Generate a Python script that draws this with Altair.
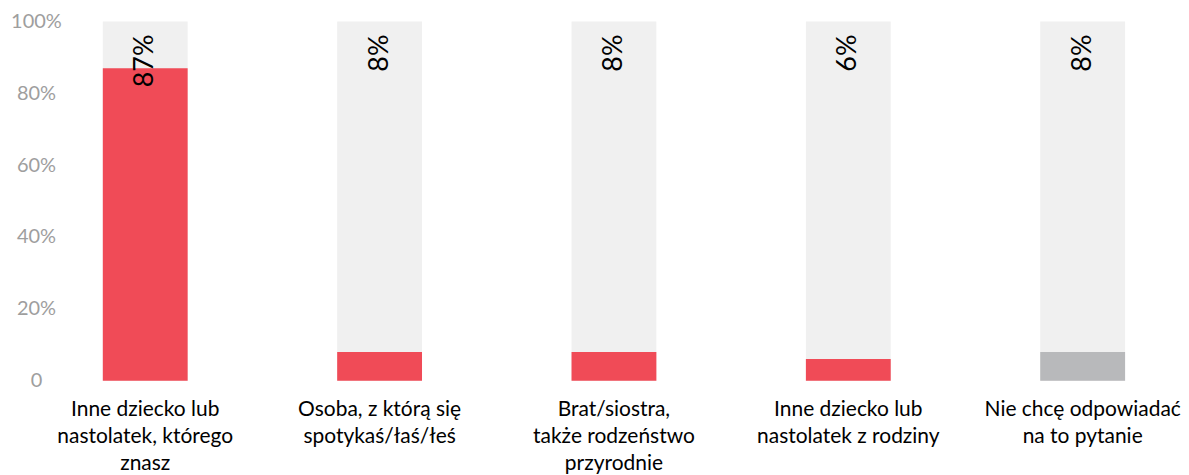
import altair as alt
import pandas as pd

categories = [
    "Inne dziecko lub\nnastolatek, którego\nznasz",
    "Osoba, z którą się\nspotykaś/łaś/łeś",
    "Brat/siostra,\ntakże rodzeństwo\nprzyrodnie",
    "Inne dziecko lub\nnastolatek z rodziny",
    "Nie chcę odpowiadać\nna to pytanie",
]
values = [87, 8, 8, 6, 8]
labels = ["87%", "8%", "8%", "6%", "8%"]
groups = ["main", "main", "main", "main", "refuse"]

df = pd.DataFrame({"cat": categories, "value": values, "label": labels, "group": groups, "full": [100] * 5})

x = alt.X(
    "cat:N",
    sort=categories,
    title=None,
    scale=alt.Scale(paddingInner=0.638, paddingOuter=0.179),
    axis=alt.Axis(
        labelAngle=0,
        labelExpr="split(datum.label, '\\n')",
        labelFont="Lato",
        labelFontSize=21,
        labelColor="#000000",
        labelLineHeight=27,
        labelPadding=18,
        labelBaseline="top",
        domain=False,
        ticks=False,
        labelLimit=300,
    ),
)

yscale = alt.Scale(domain=[0, 100], nice=False)

bg = alt.Chart(df).mark_bar(color="#f0f0f0").encode(
    x=x,
    y=alt.Y(
        "full:Q",
        scale=yscale,
        title=None,
        axis=alt.Axis(
            values=[0, 20, 40, 60, 80, 100],
            labelExpr="datum.value == 0 ? '0' : datum.value + '%'",
            labelFont="Lato",
            labelFontSize=20,
            labelColor="#9e9e9e",
            labelAlign="center",
            labelPadding=25,
            grid=False,
            domain=False,
            ticks=False,
        ),
    ),
)

fg = alt.Chart(df).mark_bar().encode(
    x=x,
    y=alt.Y("value:Q", scale=yscale),
    color=alt.Color(
        "group:N",
        scale=alt.Scale(domain=["main", "refuse"], range=["#f04b57", "#b8b9bb"]),
        legend=None,
    ),
)

txt = alt.Chart(df).mark_text(
    angle=270, align="right", baseline="middle", dx=-13, font="Lato", fontSize=27, color="#000000"
).encode(
    x=x,
    y=alt.Y("full:Q", scale=yscale),
    text="label:N",
)

chart = (
    alt.layer(bg, fg, txt)
    .properties(width=1109, height=360, padding={"left": 2, "top": 3, "right": 0, "bottom": 0})
    .configure_view(stroke=None)
)

chart.save("out.html", embed_options={"renderer": "svg", "actions": False})
